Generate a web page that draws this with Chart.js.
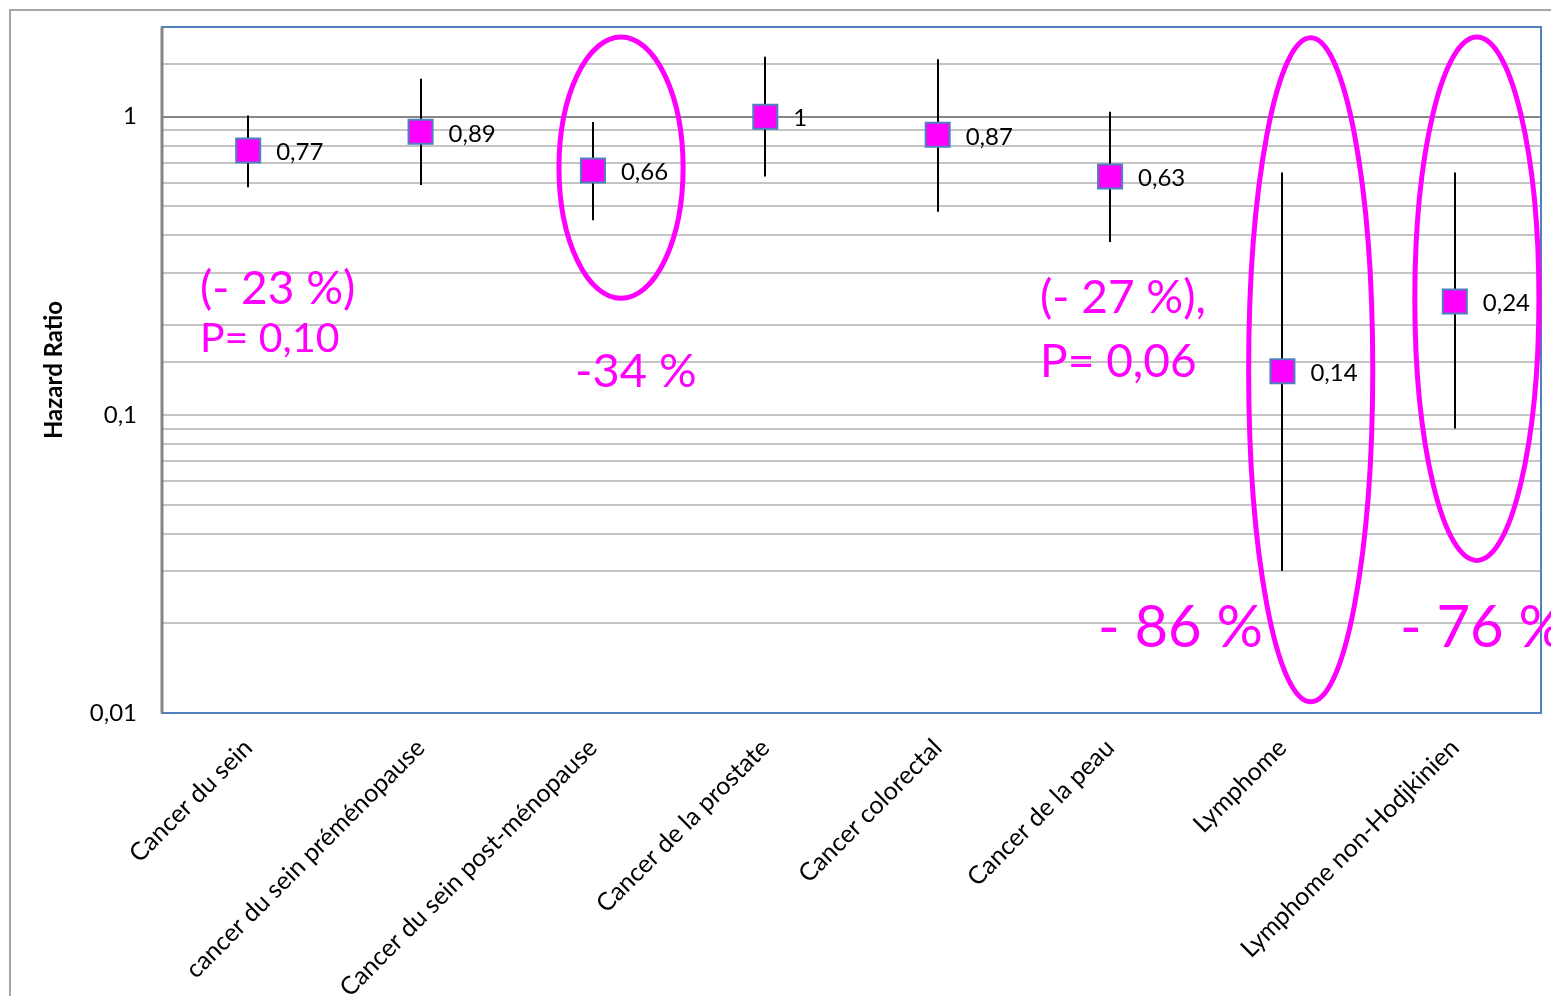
<!DOCTYPE html>
<html lang="fr">
<head>
<meta charset="utf-8">
<title>Hazard Ratio par type de cancer</title>
<script src="https://cdn.jsdelivr.net/npm/chart.js@4.4.1/dist/chart.umd.min.js"></script>
<style>
  html, body { margin: 0; padding: 0; background: #ffffff; }
  #wrap { position: relative; width: 1551px; height: 996px; }
</style>
</head>
<body>
<div id="wrap"><canvas id="chart"></canvas></div>
<script>
// Categories and hazard ratios with their confidence intervals
const categories = [
  'Cancer du sein',
  'cancer du sein préménopause',
  'Cancer du sein post-ménopause',
  'Cancer de la prostate',
  'Cancer colorectal',
  'Cancer de la peau',
  'Lymphome',
  'Lymphome non-Hodjkinien'
];
const hazardRatio = [0.77, 0.89, 0.66, 1, 0.87, 0.63, 0.14, 0.24];
const ciLow  = [0.58, 0.59, 0.45, 0.63, 0.48, 0.38, 0.03, 0.09];
const ciHigh = [1.01, 1.34, 0.96, 1.59, 1.56, 1.04, 0.65, 0.65];
const valueLabels = ['0,77', '0,89', '0,66', '1', '0,87', '0,63', '0,14', '0,24'];
const yTickLabels = { 1: '1', 0.1: '0,1', 0.01: '0,01' };

// Highlight ellipses: category index, horizontal shift (in category widths),
// vertical span given in hazard-ratio units
const highlightRings = [
  { cat: 2, dx: 0.163, halfW: 0.36, top: 1.85, bottom: 0.246 },
  { cat: 6, dx: 0.164, halfW: 0.36, top: 1.84, bottom: 0.0109 },
  { cat: 7, dx: 0.128, halfW: 0.36, top: 1.85, bottom: 0.0325 }
];
// Free text notes anchored to a category and a hazard-ratio level
const notes = [
  { text: '(- 23 %)', cat: 0, dx: -0.28, at: 0.265, size: 46 },
  { text: 'P= 0,10',  cat: 0, dx: -0.28, at: 0.180, size: 41 },
  { text: '-34 %',    cat: 2, dx: -0.104, at: 0.139, size: 47 },
  { text: '(- 27 %),', cat: 5, dx: -0.406, at: 0.2456, size: 46 },
  { text: 'P= 0,06',  cat: 5, dx: -0.406, at: 0.150, size: 46 },
  { text: '- 86 %',   cat: 5, dx: -0.07, at: 0.0193, size: 58 },
  { text: '- 76 %',   cat: 7, dx: -0.318, at: 0.0193, size: 58 }
];

const MAGENTA = '#FF00FF';
const FRAME_BLUE = '#4F81BD';
const FONT = 'Lato, "Open Sans", sans-serif';

const decorations = {
  id: 'decorations',
  beforeDraw(chart) {
    const { ctx } = chart;
    ctx.save();
    // outer chart frame
    ctx.strokeStyle = '#A6A6A6';
    ctx.lineWidth = 2;
    ctx.beginPath();
    ctx.moveTo(10, chart.height);
    ctx.lineTo(10, 10);
    ctx.lineTo(chart.width, 10);
    ctx.stroke();
    ctx.restore();
  },
  beforeDatasetsDraw(chart) {
    const { ctx, chartArea: a, scales: { x, y } } = chart;
    ctx.save();
    // plot area border
    ctx.strokeStyle = FRAME_BLUE;
    ctx.lineWidth = 2;
    ctx.strokeRect(a.left, a.top, a.right - a.left, a.bottom - a.top);
    // left axis line
    ctx.strokeStyle = '#868686';
    ctx.lineWidth = 3;
    ctx.beginPath();
    ctx.moveTo(a.left, a.top);
    ctx.lineTo(a.left, a.bottom);
    ctx.stroke();
    // confidence interval whiskers
    ctx.strokeStyle = '#000000';
    ctx.lineWidth = 2;
    categories.forEach((c, i) => {
      const px = Math.round(x.getPixelForValue(i));
      ctx.beginPath();
      ctx.moveTo(px, y.getPixelForValue(ciHigh[i]));
      ctx.lineTo(px, y.getPixelForValue(ciLow[i]));
      ctx.stroke();
    });
    ctx.restore();
  },
  afterDatasetsDraw(chart) {
    const { ctx, scales: { x, y } } = chart;
    ctx.save();
    ctx.fillStyle = '#000000';
    ctx.font = '24px ' + FONT;
    ctx.textAlign = 'left';
    ctx.textBaseline = 'middle';
    hazardRatio.forEach((v, i) => {
      ctx.fillText(valueLabels[i], x.getPixelForValue(i) + 28, y.getPixelForValue(v) + 2);
    });
    ctx.restore();
  },
  afterDraw(chart) {
    const { ctx, scales: { x, y } } = chart;
    const catW = x.getPixelForValue(1) - x.getPixelForValue(0);
    ctx.save();
    ctx.strokeStyle = MAGENTA;
    ctx.lineWidth = 5;
    highlightRings.forEach(r => {
      const cx = x.getPixelForValue(r.cat) + r.dx * catW;
      const yt = y.getPixelForValue(r.top);
      const yb = y.getPixelForValue(r.bottom);
      ctx.beginPath();
      ctx.ellipse(cx, (yt + yb) / 2, r.halfW * catW, (yb - yt) / 2, 0, 0, Math.PI * 2);
      ctx.stroke();
    });
    ctx.fillStyle = MAGENTA;
    ctx.textAlign = 'left';
    ctx.textBaseline = 'middle';
    notes.forEach(n => {
      ctx.font = n.size + 'px ' + FONT;
      ctx.fillText(n.text, x.getPixelForValue(n.cat) + n.dx * catW, y.getPixelForValue(n.at));
    });
    ctx.restore();
  }
};

new Chart(document.getElementById('chart'), {
  type: 'line',
  data: {
    labels: categories,
    datasets: [{
      label: 'Hazard Ratio',
      data: hazardRatio,
      showLine: false,
      pointStyle: 'rect',
      pointRadius: 17,
      pointHoverRadius: 17,
      pointBackgroundColor: MAGENTA,
      pointBorderColor: FRAME_BLUE,
      pointBorderWidth: 2
    }]
  },
  options: {
    responsive: true,
    maintainAspectRatio: false,
    animation: false,
    layout: { autoPadding: false, padding: { top: 27, right: 10, left: 0, bottom: 0 } },
    plugins: { legend: { display: false }, tooltip: { enabled: false } },
    scales: {
      x: {
        type: 'category',
        offset: true,
        grid: { display: false, drawTicks: false },
        border: { display: false },
        ticks: {
          minRotation: 45,
          maxRotation: 45,
          autoSkip: false,
          padding: 20,
          color: '#000000',
          font: { family: FONT, size: 25 }
        },
        afterFit(scale) {
          scale.height = 283;
          scale.paddingLeft = 0;
          scale.paddingRight = 0;
        }
      },
      y: {
        type: 'logarithmic',
        min: 0.01,
        max: 2,
        border: { display: false },
        grid: {
          drawTicks: false,
          lineWidth: 2,
          color: ctx => (ctx.tick && Math.abs(ctx.tick.value - 1) < 1e-9) ? '#868686' : '#C4C4C4'
        },
        ticks: {
          autoSkip: false,
          padding: 25,
          color: '#000000',
          font: { family: FONT, size: 24 },
          callback: function (value) {
            for (const k of Object.keys(yTickLabels)) {
              if (Math.abs(value - Number(k)) < Number(k) * 1e-6) return yTickLabels[k];
            }
            return '';
          }
        },
        title: {
          display: true,
          text: 'Hazard Ratio',
          color: '#000000',
          font: { family: FONT, size: 24, weight: 'bold' },
          padding: { top: 40, bottom: 0 }
        },
        afterFit(scale) {
          scale.width = 162;
          scale.paddingTop = 0;
          scale.paddingBottom = 0;
        }
      }
    }
  },
  plugins: [decorations]
});
</script>
</body>
</html>
